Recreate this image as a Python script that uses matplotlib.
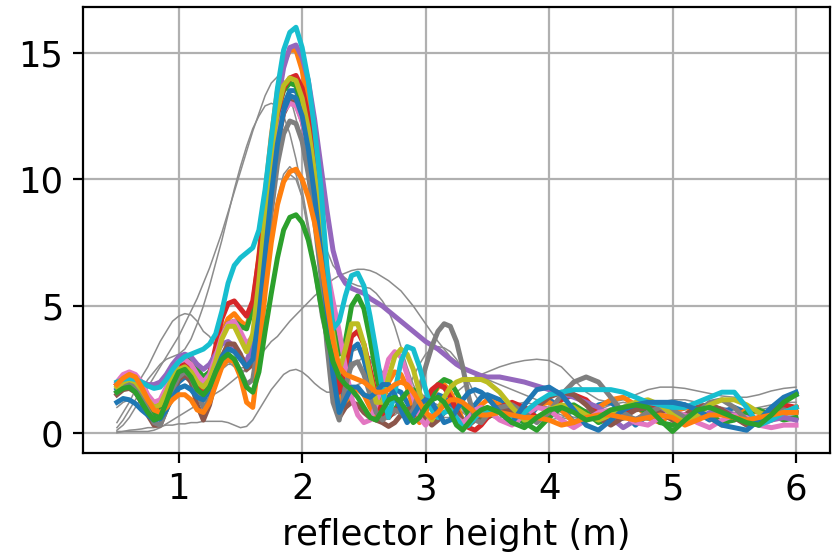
import matplotlib.pyplot as plt

plt.rcParams['font.size'] = 12.8

# reflector height grid (m)
rh = [0.50, 0.55, 0.60, 0.65, 0.70, 0.75, 0.80, 0.85, 0.90, 0.95,
      1.00, 1.05, 1.10, 1.15, 1.20, 1.25, 1.30, 1.35, 1.40, 1.45,
      1.50, 1.55, 1.60, 1.65, 1.70, 1.75, 1.80, 1.85, 1.90, 1.95,
      2.00, 2.05, 2.10, 2.15, 2.20, 2.25, 2.30, 2.35, 2.40, 2.45,
      2.50, 2.55, 2.60, 2.65, 2.70, 2.75, 2.80, 2.85, 2.90, 2.95,
      3.00, 3.05, 3.10, 3.15, 3.20, 3.25, 3.30, 3.35, 3.40, 3.45,
      3.5, 3.6, 3.7, 3.8, 3.9, 4.0, 4.1, 4.2, 4.3, 4.4, 4.5, 4.6, 4.7,
      4.8, 4.9, 5.0, 5.1, 5.2, 5.3, 5.4, 5.5, 5.6, 5.7, 5.8, 5.9, 6.0]

# periodograms that passed (thick, colour cycle)
blue1 = [1.7, 1.85, 1.9, 1.8, 1.5, 1.1, 0.75, 0.7, 1.1, 1.6,
         2.0, 2.2, 2.1, 1.7, 1.4, 1.6, 2.2, 2.9, 3.3, 3.3,
         3.0, 2.6, 2.8, 4.4, 7.0, 9.6, 11.6, 12.9, 13.5, 13.5,
         12.8, 11.6, 9.9, 7.8, 5.4, 2.9, 0.9, 1.9, 3.3, 3.5,
         2.9, 1.9, 1.0, 0.9, 1.4, 1.7, 1.6, 1.2, 0.7, 0.5,
         0.9, 1.3, 1.5, 1.4, 1.1, 0.6, 0.3, 0.7, 1.1, 1.4,
         1.5, 1.3, 0.7, 0.4, 1.0, 1.3, 1.0, 0.4, 0.6, 1.1, 1.2, 0.8, 0.3,
         0.7, 1.1, 1.2, 1.1, 0.8, 0.5, 0.8, 1.0, 0.8, 0.4, 0.9, 1.3, 1.5]
orange1 = [1.9, 2.1, 2.2, 2.1, 1.8, 1.3, 0.9, 0.9, 1.4, 2.1,
           2.6, 2.8, 2.7, 2.3, 2.0, 2.3, 3.0, 3.9, 4.5, 4.7,
           4.4, 4.2, 5.0, 7.0, 9.4, 11.7, 13.5, 14.6, 15.1, 15.1,
           14.3, 12.9, 11.0, 8.6, 5.9, 3.2, 1.2, 1.0, 1.6, 1.7,
           1.5, 1.0, 0.6, 1.2, 2.0, 2.4, 2.3, 1.8, 1.0, 0.4,
           0.8, 1.4, 1.8, 1.9, 1.6, 1.1, 0.5, 0.3, 0.8, 1.1,
           1.3, 1.1, 0.5, 0.6, 1.1, 1.2, 0.9, 0.4, 0.5, 1.0, 1.3, 1.4, 1.1,
           0.6, 0.4, 0.8, 1.0, 0.9, 0.6, 0.3, 0.6, 0.9, 0.8, 0.5, 0.7, 1.0]
green1 = [1.6, 1.8, 1.9, 1.8, 1.5, 1.1, 0.7, 0.8, 1.5, 2.3,
          2.8, 3.0, 2.9, 2.5, 2.2, 2.4, 3.0, 3.8, 4.3, 4.4,
          4.2, 4.1, 4.9, 6.8, 9.0, 11.1, 12.7, 13.5, 13.8, 13.7,
          13.0, 11.8, 10.2, 8.3, 6.2, 4.3, 3.1, 3.6, 5.0, 5.4,
          4.9, 3.7, 2.3, 1.1, 0.6, 0.9, 1.3, 1.6, 1.7, 1.4,
          1.0, 1.4, 1.9, 2.1, 2.0, 1.6, 1.1, 0.7, 0.5, 0.6,
          0.6, 0.9, 0.8, 0.4, 0.1, 0.6, 1.0, 1.1, 0.8, 0.4, 0.6, 0.9, 1.0,
          0.8, 0.4, 0.3, 0.6, 0.8, 0.7, 0.4, 0.5, 0.8, 0.9, 0.7, 0.5, 0.6]
red = [1.9, 2.1, 2.15, 2.0, 1.7, 1.3, 1.0, 1.1, 1.6, 2.2,
       2.6, 2.8, 2.5, 1.8, 1.6, 2.3, 3.4, 4.5, 5.1, 5.2,
       4.9, 4.6, 5.2, 6.9, 9.0, 11.0, 12.6, 13.6, 14.0, 14.1,
       13.6, 12.5, 10.8, 8.6, 6.0, 3.2, 1.6, 2.6, 3.8, 4.0,
       3.5, 2.5, 1.4, 0.7, 0.6, 0.9, 1.0, 0.9, 0.7, 0.8,
       1.3, 1.7, 1.9, 1.8, 1.4, 0.9, 0.4, 0.2, 0.1, 0.3,
       0.6, 1.0, 1.2, 1.0, 0.6, 0.8, 1.3, 1.5, 1.3, 0.8, 0.4, 0.7, 1.0,
       1.1, 0.9, 0.6, 0.7, 1.0, 1.1, 0.9, 0.6, 0.4, 0.6, 0.9, 1.1, 1.0]
purple = [1.9, 2.1, 2.2, 2.1, 2.0, 1.9, 1.9, 2.0, 2.3, 2.7,
          3.0, 3.1, 3.0, 2.7, 2.5, 2.7, 3.1, 3.5, 3.6, 3.4,
          3.0, 2.8, 3.5, 5.6, 8.3, 10.9, 13.0, 14.4, 15.2, 15.3,
          14.8, 13.9, 12.4, 10.6, 8.8, 7.2, 6.3, 5.9, 5.7, 5.6,
          5.5, 5.3, 5.15, 5.0, 4.8, 4.6, 4.4, 4.2, 4.0, 3.8,
          3.6, 3.45, 3.3, 3.1, 2.9, 2.7, 2.55, 2.45, 2.35, 2.25,
          2.2, 2.2, 2.1, 2.0, 1.85, 1.7, 1.55, 1.4, 1.2, 1.0, 0.6, 0.2, 0.5,
          0.8, 0.9, 0.7, 0.4, 0.5, 0.8, 0.9, 0.7, 0.4, 0.3, 0.5, 0.6, 0.5]
brown = [1.5, 1.7, 1.75, 1.6, 1.2, 0.7, 0.3, 0.3, 0.9, 1.6,
         2.1, 2.3, 2.0, 1.1, 0.5, 1.1, 2.1, 3.0, 3.5, 3.5,
         3.1, 2.5, 2.7, 4.3, 6.9, 9.4, 11.4, 12.6, 13.1, 13.0,
         12.3, 11.1, 9.4, 7.3, 4.9, 2.5, 0.6, 1.0, 1.2, 1.1,
         0.8, 0.6, 0.5, 0.4, 0.25, 0.4, 0.7, 0.9, 1.0, 0.9,
         0.6, 0.3, 0.5, 0.8, 0.9, 0.8, 0.5, 0.3, 0.5, 0.7,
         0.9, 1.0, 0.8, 0.7, 1.0, 1.4, 1.6, 1.5, 1.1, 0.6, 0.3, 0.6, 0.9,
         1.0, 0.8, 0.5, 0.7, 1.0, 1.1, 0.9, 0.6, 0.3, 0.5, 0.8, 0.9, 0.8]
pink = [2.0, 2.3, 2.4, 2.3, 2.0, 1.5, 1.2, 1.3, 1.8, 2.4,
        2.8, 2.9, 2.7, 2.3, 2.0, 2.3, 3.0, 3.8, 4.3, 4.4,
        4.0, 3.5, 3.8, 5.4, 7.8, 10.0, 11.7, 12.7, 13.0, 12.9,
        12.3, 11.2, 9.8, 8.1, 6.5, 5.2, 4.0, 2.6, 1.4, 0.7,
        0.4, 0.5, 1.1, 2.0, 2.9, 3.2, 3.0, 2.3, 1.4, 0.6,
        0.3, 0.7, 1.0, 1.1, 0.9, 0.6, 0.4, 0.6, 0.9, 1.0,
        0.9, 0.5, 0.3, 0.7, 1.0, 0.9, 0.5, 0.2, 0.5, 0.8, 0.9, 0.7, 0.4,
        0.3, 0.6, 0.8, 0.7, 0.4, 0.2, 0.5, 0.7, 0.6, 0.3, 0.2, 0.3, 0.3]
gray = [1.6, 1.8, 1.9, 1.8, 1.4, 0.9, 0.4, 0.3, 0.9, 1.7,
        2.2, 2.4, 2.2, 1.6, 1.0, 1.3, 2.0, 2.7, 3.0, 2.9,
        2.4, 1.9, 2.1, 3.7, 6.2, 8.7, 10.6, 11.8, 12.3, 12.2,
        11.5, 10.2, 8.4, 6.3, 3.5, 1.2, 0.5, 1.8, 2.7, 2.8,
        2.3, 1.5, 0.8, 0.5, 0.7, 0.9, 0.8, 0.6, 0.9, 1.7,
        2.6, 3.4, 4.0, 4.3, 4.2, 3.6, 2.6, 1.4, 0.5, 0.4,
        0.7, 1.0, 1.1, 0.8, 0.4, 0.8, 1.5, 2.0, 2.2, 2.0, 1.4, 0.8, 0.5,
        0.8, 1.0, 0.9, 0.6, 0.8, 1.2, 1.3, 1.0, 0.5, 0.3, 0.6, 0.9, 0.8]
olive = [1.8, 2.0, 2.1, 2.0, 1.7, 1.3, 1.0, 1.1, 1.6, 2.2,
         2.5, 2.6, 2.4, 2.0, 1.8, 2.1, 2.8, 3.7, 4.2, 4.2,
         3.7, 3.2, 3.9, 6.0, 8.6, 11.0, 12.7, 13.7, 14.0, 13.9,
         13.2, 12.0, 10.3, 8.3, 6.1, 3.9, 2.4, 3.3, 4.3, 4.3,
         3.5, 2.3, 1.2, 1.2, 2.2, 3.0, 3.3, 3.1, 2.5, 1.6,
         0.8, 0.5, 0.9, 1.4, 1.8, 2.0, 2.1, 2.1, 2.1, 2.1,
         2.0, 1.6, 1.0, 0.5, 0.6, 0.9, 1.1, 1.0, 0.7, 0.5, 0.7, 1.0, 1.2,
         1.3, 1.1, 0.7, 0.4, 0.7, 1.1, 1.3, 1.3, 1.1, 0.8, 0.6, 0.8, 1.0]
cyan = [2.0, 2.1, 2.15, 2.1, 2.0, 1.85, 1.75, 1.8, 2.1, 2.5,
        2.8, 3.0, 3.1, 3.2, 3.3, 3.5, 3.9, 4.8, 5.9, 6.6,
        6.9, 7.1, 7.3, 8.0, 9.6, 11.6, 13.6, 15.1, 15.8, 16.0,
        15.2, 13.9, 12.0, 9.8, 6.6, 4.1, 4.4, 5.4, 6.2, 6.3,
        5.8, 4.6, 3.2, 1.7, 0.6, 1.6, 2.8, 3.4, 3.3, 2.6,
        1.7, 0.9, 0.6, 0.8, 0.9, 0.6, 0.2, 0.3, 0.6, 0.8,
        0.9, 0.8, 0.5, 0.8, 1.2, 1.5, 1.6, 1.7, 1.7, 1.7, 1.7, 1.6, 1.4,
        1.2, 1.1, 1.0, 1.0, 1.2, 1.4, 1.6, 1.6, 1.0, 0.3, 0.5, 0.8, 1.0]
blue2 = [1.2, 1.35, 1.3, 1.15, 0.9, 0.7, 0.5, 0.55, 0.9, 1.4,
         1.75, 1.85, 1.7, 1.4, 1.3, 1.7, 2.4, 3.0, 3.3, 3.2,
         2.9, 2.6, 2.9, 4.6, 7.0, 9.4, 11.4, 12.7, 13.3, 13.2,
         12.5, 11.2, 9.4, 7.2, 4.8, 2.3, 0.8, 1.3, 1.8, 1.8,
         1.5, 1.4, 1.6, 1.9, 1.9, 1.5, 0.9, 0.4, 0.7, 1.1,
         1.3, 1.2, 0.8, 0.4, 0.5, 0.9, 1.3, 1.6, 1.7, 1.6,
         1.4, 0.8, 0.4, 1.1, 1.7, 1.8, 1.5, 0.9, 0.3, 0.1, 0.5, 0.9, 1.1,
         1.2, 1.2, 1.2, 1.1, 0.9, 0.6, 0.3, 0.2, 0.1, 0.5, 1.0, 1.4, 1.6]
orange2 = [1.9, 2.15, 2.3, 2.2, 1.8, 1.3, 0.9, 0.8, 1.0, 1.3,
           1.5, 1.5, 1.3, 0.9, 0.8, 1.2, 1.9, 2.6, 2.9, 2.8,
           2.2, 1.2, 1.0, 3.0, 5.5, 7.5, 9.0, 9.9, 10.3, 10.4,
           10.0, 9.3, 8.3, 6.9, 5.2, 3.6, 2.6, 2.3, 2.2, 2.1,
           2.0, 1.8, 1.6, 1.6, 1.7, 1.9, 2.0, 1.9, 1.6, 1.2,
           0.8, 0.6, 0.8, 1.1, 1.3, 1.3, 1.2, 1.0, 0.8, 0.7,
           0.7, 0.8, 0.7, 0.6, 0.6, 0.5, 0.3, 0.4, 0.6, 0.7, 0.7, 0.6, 0.5,
           0.6, 0.7, 0.6, 0.3, 0.5, 0.7, 0.7, 0.6, 0.5, 0.6, 0.7, 0.8, 0.8]
green2 = [1.6, 1.75, 1.8, 1.6, 1.2, 0.8, 0.5, 0.6, 1.2, 1.9,
          2.4, 2.5, 2.2, 1.7, 1.5, 1.8, 2.4, 2.9, 3.1, 2.9,
          2.4, 1.8, 1.6, 2.4, 4.0, 5.5, 6.9, 8.0, 8.5, 8.6,
          8.3, 7.6, 6.5, 5.1, 3.8, 2.8, 2.2, 1.9, 1.7, 1.4,
          1.0, 0.6, 0.5, 0.9, 1.3, 1.4, 1.2, 0.8, 0.4, 0.6,
          1.0, 1.3, 1.4, 1.2, 0.8, 0.3, 0.1, 0.4, 0.7, 0.9,
          1.0, 0.8, 0.4, 0.2, 0.6, 0.9, 1.0, 0.8, 0.5, 0.6, 0.9, 1.0, 1.1,
          1.0, 0.5, 0.05, 0.5, 0.9, 1.0, 0.8, 0.6, 0.4, 0.3, 0.7, 1.2, 1.5]

# periodograms that failed (thin gray)
fail1 = [0.4, 0.8, 1.2, 1.7, 2.2, 2.6, 3.1, 3.6, 4.0, 4.4,
         4.6, 4.7, 4.65, 4.4, 4.0, 3.8, 3.4, 3.0, 2.8, 2.6,
         2.55, 2.6, 3.1, 4.3, 6.0, 7.8, 9.3, 10.2, 10.5, 10.2,
         9.3, 7.9, 6.2, 4.6, 3.5, 2.9, 2.8, 3.0, 3.2, 3.3,
         3.2, 2.9, 2.4, 1.9, 1.5, 1.3, 1.4, 1.7, 2.2, 2.7,
         3.1, 3.3, 3.4, 3.35, 3.2, 2.9, 2.5, 2.0, 1.5, 1.1,
         0.8, 0.6, 0.8, 1.0, 1.1, 1.0, 0.8, 0.6, 0.5, 0.6, 0.7, 0.7, 0.6,
         0.5, 0.5, 0.6, 0.7, 0.7, 0.6, 0.5, 0.5, 0.5, 0.6, 0.7, 0.7, 0.7]
fail2 = [0.2, 0.5, 0.9, 1.3, 1.7, 2.1, 2.4, 2.7, 2.9, 3.0,
         3.1, 3.3, 3.7, 4.3, 5.0, 5.8, 6.7, 7.6, 8.6, 9.6,
         10.5, 11.3, 12.0, 12.5, 12.9, 13.0, 12.9, 12.5, 11.8, 10.8,
         9.6, 8.2, 6.8, 5.4, 4.2, 3.2, 2.6, 2.4, 2.5, 2.8,
         3.0, 3.0, 2.8, 2.4, 1.9, 1.4, 1.0, 0.8, 0.9, 1.2,
         1.5, 1.7, 1.8, 1.7, 1.5, 1.2, 0.9, 0.6, 0.5, 0.6,
         0.8, 1.1, 1.2, 1.0, 0.7, 0.5, 0.6, 0.8, 0.9, 0.8, 0.6, 0.5, 0.6,
         0.8, 0.9, 0.8, 0.6, 0.5, 0.6, 0.7, 0.7, 0.6, 0.5, 0.5, 0.6, 0.6]
fail3 = [0.1, 0.3, 0.6, 1.0, 1.4, 1.8, 2.2, 2.6, 3.0, 3.4,
         3.8, 4.3, 4.8, 5.3, 5.9, 6.5, 7.2, 7.9, 8.7, 9.5,
         10.3, 11.1, 11.9, 12.6, 13.3, 13.8, 14.05, 13.9, 13.3, 12.4,
         11.3, 10.1, 9.0, 8.0, 7.2, 6.6, 6.3, 6.1, 5.9, 5.8,
         5.75, 5.7, 5.5, 5.2, 4.8, 4.2, 3.4, 2.6, 1.9, 1.4,
         1.1, 1.0, 1.0, 1.1, 1.1, 1.0, 0.8, 0.6, 0.5, 0.5,
         0.6, 0.9, 1.1, 1.2, 1.1, 0.9, 0.7, 0.6, 0.7, 0.9, 1.1, 1.2, 1.1,
         0.9, 0.8, 0.8, 0.9, 1.0, 1.0, 0.9, 0.8, 0.8, 0.9, 1.0, 1.0, 1.0]
fail4 = [0.05, 0.05, 0.05, 0.05, 0.05, 0.05, 0.1, 0.2, 0.35, 0.5,
         0.65, 0.8, 0.95, 1.1, 1.25, 1.4, 1.55, 1.7, 1.9, 2.1,
         2.3, 2.5, 2.7, 3.0, 3.3, 3.6, 3.8, 4.1, 4.4, 4.65,
         4.9, 5.15, 5.4, 5.6, 5.85, 6.05, 6.2, 6.3, 6.4, 6.45,
         6.45, 6.4, 6.3, 6.15, 6.0, 5.8, 5.6, 5.3, 5.0, 4.65,
         4.3, 3.95, 3.6, 3.3, 3.0, 2.8, 2.6, 2.45, 2.3, 2.2,
         2.1, 1.9, 1.7, 1.5, 1.3, 1.2, 1.1, 1.0, 0.9, 0.8, 0.8, 0.9, 1.0,
         1.1, 1.2, 1.3, 1.3, 1.2, 1.1, 1.0, 0.9, 0.9, 1.0, 1.1, 1.2, 1.2]
fail5 = [0.0, 0.05, 0.1, 0.12, 0.15, 0.2, 0.2, 0.25, 0.3, 0.3,
         0.35, 0.35, 0.4, 0.4, 0.45, 0.45, 0.45, 0.45, 0.4, 0.3,
         0.2, 0.25, 0.5, 0.9, 1.3, 1.7, 2.0, 2.3, 2.45, 2.5,
         2.4, 2.2, 1.95, 1.75, 1.6, 1.6, 1.7, 1.8, 1.8, 1.7,
         1.5, 1.2, 0.9, 0.7, 0.6, 0.7, 0.9, 1.1, 1.2, 1.2,
         1.1, 0.9, 0.7, 0.6, 0.6, 0.7, 0.8, 0.9, 0.9, 0.8,
         0.7, 0.5, 0.5, 0.6, 0.7, 0.7, 0.6, 0.5, 0.5, 0.6, 0.7, 0.7, 0.6,
         0.5, 0.5, 0.6, 0.7, 0.7, 0.6, 0.5, 0.5, 0.6, 0.6, 0.6, 0.5, 0.5]
fail6 = [1.0, 1.2, 1.3, 1.2, 1.0, 0.8, 0.7, 0.8, 1.1, 1.5,
         1.8, 1.9, 1.8, 1.6, 1.5, 1.7, 2.1, 2.5, 2.7, 2.7,
         2.5, 2.4, 2.8, 4.0, 5.8, 7.6, 9.0, 9.9, 10.2, 10.0,
         9.3, 8.1, 6.6, 5.0, 3.5, 2.3, 1.6, 1.5, 1.7, 1.9,
         2.0, 1.9, 1.6, 1.3, 1.1, 1.2, 1.4, 1.6, 1.7, 1.6,
         1.4, 1.2, 1.1, 1.2, 1.4, 1.6, 1.8, 2.0, 2.2, 2.3,
         2.4, 2.6, 2.75, 2.85, 2.9, 2.85, 2.6, 2.1, 1.6, 1.3, 1.2, 1.3, 1.5,
         1.7, 1.8, 1.8, 1.75, 1.65, 1.55, 1.45, 1.4, 1.4, 1.5, 1.65, 1.75, 1.8]

good = [blue1, orange1, green1, red, purple, brown, pink, gray, olive,
        cyan, blue2, orange2, green2]
bad = [fail1, fail2, fail3, fail4, fail5, fail6]

fig = plt.figure(figsize=(4.17, 2.785), dpi=200)
ax = fig.add_axes([0.0995, 0.1867, 0.8957, 0.8007])

for amp in bad:
    ax.plot(rh, amp, color='#8c8c8c', lw=0.55)
for amp in good:
    ax.plot(rh, amp, lw=1.8)

ax.set_xlabel('reflector height (m)')
ax.set_xlim(0.225, 6.275)
ax.set_ylim(-0.8, 16.8)
ax.set_xticks([1, 2, 3, 4, 5, 6])
ax.set_yticks([0, 5, 10, 15])
ax.grid(True)

fig.savefig('out.png', dpi=200)
